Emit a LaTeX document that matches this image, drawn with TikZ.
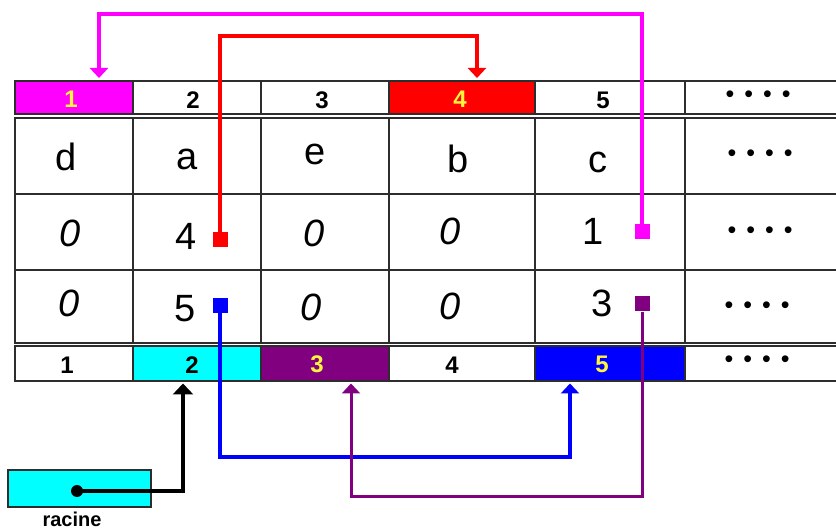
\documentclass[tikz,border=0pt]{standalone}
\usepackage{fontspec}
\setmainfont{Liberation Sans}
\usetikzlibrary{arrows.meta,calc}
\definecolor{mag}{RGB}{255,0,255}
\definecolor{cya}{RGB}{0,255,255}
\definecolor{pur}{RGB}{128,0,128}
\definecolor{blu}{RGB}{0,0,255}
\definecolor{rd}{RGB}{255,0,0}
\definecolor{yel}{RGB}{255,245,60}
\definecolor{gridc}{RGB}{45,45,45}
\newcommand\fourdots{•\hspace{10pt}•\hspace{10pt}•\hspace{10pt}•}
\begin{document}
\begin{tikzpicture}[x=1pt,y=-1pt,
  cell/.style={draw=gridc, line width=2pt, inner sep=0pt},
  tnum/.style={inner sep=0pt, font=\fontsize{24}{24}\selectfont\bfseries},
  rtxt/.style={inner sep=0pt, font=\fontsize{38}{38}\selectfont},
  dtxt/.style={inner sep=0pt, font=\fontsize{25}{25}\selectfont},
  sq/.style={inner sep=0pt, minimum size=15pt},
  conn/.style={line width=3.5pt, -{Triangle[width=18pt,length=10pt]}}]
\useasboundingbox (0,0) rectangle (836,529);

% table cells
\foreach \c/\x/\w/\tf/\uf in {1/74/118/mag/white,2/197/128/white/cya,3/325/128/white/pur,4/462/146/rd/white,5/610/150/white/blu,6/762.5/155/white/white}{
  \node[cell, fill=\tf, minimum width=\w pt, minimum height=33pt] (t\c) at (\x,97.5) {};
  \node[cell, minimum width=\w pt, minimum height=76pt] (a\c) at (\x,156) {};
  \node[cell, minimum width=\w pt, minimum height=76pt] (b\c) at (\x,232) {};
  \node[cell, minimum width=\w pt, minimum height=73pt] (c\c) at (\x,306.5) {};
  \node[cell, fill=\uf, minimum width=\w pt, minimum height=35pt] (u\c) at (\x,363.5) {};
}

% top index row
\node[tnum, text=yel] (tx1) at (71,99) {1};
\node[tnum] (tx2) at (193,100) {2};
\node[tnum] (tx3) at (322,100) {3};
\node[tnum, text=yel] (tx4) at (460,99) {4};
\node[tnum] (tx5) at (603,100) {5};
\node[dtxt] (tx6) at (758,97) {\fourdots};

% row 1
\node[rtxt] (ax1) at (66,157) {d};
\node[rtxt] (ax2) at (187,159) {a};
\node[rtxt] (ax3) at (315,154) {e};
\node[rtxt] (ax4) at (458,159) {b};
\node[rtxt] (ax5) at (598,162) {c};
\node[dtxt] (ax6) at (760,156) {\fourdots};

% row 2
\node[rtxt] (bx1) at (70,233) {\itshape 0};
\node[rtxt] (bx2) at (186,236) {4};
\node[rtxt] (bx3) at (314,233) {\itshape 0};
\node[rtxt] (bx4) at (450,231) {\itshape 0};
\node[rtxt] (bx5) at (593,231) {1};
\node[dtxt] (bx6) at (760,233) {\fourdots};

% row 3
\node[rtxt] (cx1) at (69,303) {\itshape 0};
\node[rtxt] (cx2) at (185,309) {5};
\node[rtxt] (cx3) at (311,307) {\itshape 0};
\node[rtxt] (cx4) at (450,306) {\itshape 0};
\node[rtxt] (cx5) at (602,303) {3};
\node[dtxt] (cx6) at (757,308) {\fourdots};

% bottom index row
\node[tnum] (ux1) at (67,365) {1};
\node[tnum] (ux2) at (192,365) {2};
\node[tnum, text=yel] (ux3) at (317,364) {3};
\node[tnum] (ux4) at (452,365) {4};
\node[tnum, text=yel] (ux5) at (602,364) {5};
\node[dtxt] (ux6) at (757,362) {\fourdots};

% pointer squares
\node[sq, fill=rd] (sr) at (220,240) {};
\node[sq, fill=blu] (sb) at (220,305.5) {};
\node[sq, fill=mag] (sm) at (642,231.5) {};
\node[sq, fill=pur] (sp) at (642,304) {};

% racine
\node[draw=gridc, line width=2pt, fill=cya, minimum width=143pt, minimum height=37pt, inner sep=0pt] (racine) at (79.5,488.5) {};
\node[inner sep=0pt, anchor=base, font=\fontsize{20}{20}\selectfont\bfseries] (racinelbl) at (72,526) {racine};
\node[circle, fill=black, minimum size=12pt, inner sep=0pt] (dot) at (77,491) {};

% connectors
\coordinate (redtop) at (477,36);
\coordinate (magtop) at (99,14);
\coordinate (blubot) at (220,457);
\coordinate (purbot) at (642,496);

\draw[conn, draw=rd, shorten >=2pt] (sr.north) |- (redtop) -- ([xshift=15pt]t4.north);
\draw[conn, draw=mag, shorten >=2pt] (sm.north) |- (magtop) -- ([xshift=25pt]t1.north);
\draw[conn, draw=blu, shorten >=1.5pt] (sb.south) -- (blubot) -| ([xshift=-40pt]u5.south);
\draw[conn, draw=pur, line width=3pt, shorten >=1.5pt] (sp.south) -- (purbot) -| ([xshift=26pt]u3.south);
\draw[line width=4.5pt, -{Triangle[width=20pt,length=11pt]}, shorten >=1.5pt] (dot.center) -| ([xshift=-14pt]u2.south);
\end{tikzpicture}
\end{document}
